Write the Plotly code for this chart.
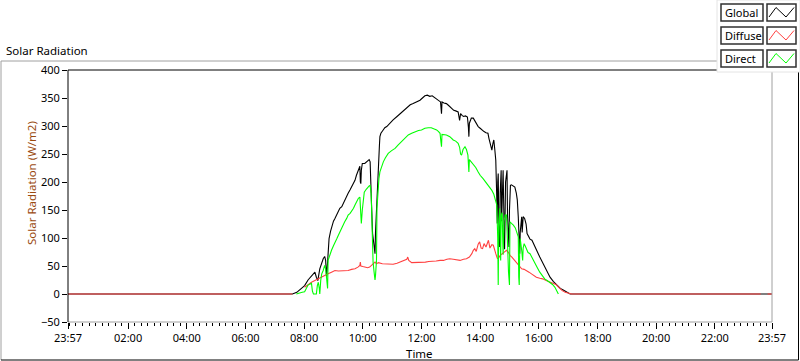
import plotly.graph_objects as go
from datetime import datetime, timedelta

# ---------------- data (time = minutes after midnight; -3 = 23:57 of previous day) -------------
GLOBAL_T = [-3, 456, 465, 472, 481, 488, 495, 500, 502, 505, 508, 512, 516, 519, 522, 524, 526, 528,
            529, 531, 534, 536, 540, 543, 547, 550, 553, 557, 560, 563, 567, 570, 574, 577, 581, 584,
            587, 591, 594, 595, 596, 597, 599, 604, 610, 613, 615, 617, 618, 620, 622, 624, 625, 626,
            628, 630, 632, 634, 635, 637, 641, 645, 649, 655, 662, 670, 676, 683, 690, 697, 703, 710,
            717, 722, 727, 732, 737, 742, 747, 751, 755, 759, 761, 762, 766, 771, 775, 778, 782, 786,
            790, 795, 798, 800, 803, 806, 810, 814, 816, 817, 818, 822, 826, 830, 834, 836, 840, 843,
            848, 852, 856, 858, 860, 862, 864, 866, 868, 870, 872, 874, 875, 876, 877, 878, 879, 880,
            881, 883, 884, 886, 887, 889, 890, 892, 895, 896, 898, 899, 900, 902, 904, 907, 911, 914,
            916, 918, 919, 920, 921, 922, 924, 925, 926, 928, 931, 934, 936, 939, 942, 946, 950, 955,
            962, 969, 976, 983, 990, 997, 1004, 1010, 1017, 1024, 1437]
GLOBAL_V = [0, 0, 3, 8, 15, 25, 33, 38, 39, 30, 24, 45, 58, 63, 67, 60, 30, 55,
            78, 99, 112, 120, 130, 135, 143, 150, 153, 156, 162, 168, 175, 180, 186, 191, 197, 203,
            212, 221, 228, 200, 197, 221, 233, 233, 238, 240, 236, 200, 156, 108, 90, 78, 72, 110,
            156, 200, 233, 265, 281, 287, 292, 297, 299, 305, 311, 317, 322, 328, 334, 338, 340, 343,
            346, 350, 354, 355, 353, 354, 351, 349, 346, 343, 322, 343, 341, 340, 337, 334, 331, 328,
            327, 325, 310, 322, 319, 317, 318, 316, 298, 281, 305, 314, 314, 308, 303, 299, 296, 293,
            290, 288, 287, 278, 269, 263, 257, 268, 275, 258, 239, 173, 126, 200, 215, 140, 100, 84,
            180, 221, 130, 190, 221, 120, 80, 200, 221, 140, 100, 84, 150, 194, 195, 193, 191, 180,
            168, 138, 100, 85, 72, 110, 125, 138, 110, 138, 135, 125, 108, 102, 98, 96, 88, 78,
            66, 54, 42, 30, 22, 16, 10, 7, 3, 0, 0]

DIFFUSE_T = [-3, 456, 458, 481, 488, 495, 502, 508, 515, 522, 529, 536, 543, 550, 557, 563, 570, 577,
             584, 590, 594, 595, 596, 600, 605, 610, 614, 618, 621, 625, 628, 632, 640, 648, 656, 662,
             670, 676, 683, 690, 692, 694, 700, 706, 714, 720, 728, 735, 742, 750, 758, 765, 772, 778,
             785, 792, 799, 806, 812, 818, 823, 826, 829, 832, 836, 839, 842, 845, 848, 852, 857, 860,
             864, 867, 870, 872, 875, 877, 881, 885, 889, 894, 898, 901, 905, 908, 912, 915, 918, 922,
             925, 930, 935, 940, 945, 950, 955, 962, 968, 975, 982, 988, 995, 1002, 1008, 1014, 1020,
             1027, 1414, 1420, 1428, 1437]
DIFFUSE_V = [0, 0, None, 12, 17, 21, 24, 27, 30, 33, 36, 39, 42, 41, 41, 42, 42, 44,
             45, 48, 51, 57, 50, 49, 48, 47, 48, 51, 54, 57, 54, 56, 54, 54, 53, 53,
             55, 57, 59, 62, 66, 60, 56, 56, 57, 56, 57, 58, 58, 59, 60, 60, 62, 63,
             62, 61, 60, 62, 63, 66, 72, 78, 81, 76, 89, 93, 82, 81, 90, 84, 96, 82,
             88, 87, 75, 72, 64, 63, 69, 72, 75, 78, 74, 69, 66, 63, 60, 57, 53, 48,
             45, 44, 42, 39, 36, 33, 30, 28, 27, 24, 22, 20, 17, 11, 6, 3, 1,
             0, 0, None, 0, 0]

DIRECT_T = [464, 470, 476, 481, 485, 488, 492, 495, 497, 499, 502, 505, 507, 509, 511, 512, 514, 516,
            519, 521, 522, 524, 526, 528, 529, 532, 536, 540, 543, 547, 550, 553, 557, 560, 563, 567,
            570, 574, 577, 581, 584, 587, 591, 594, 596, 597, 599, 601, 603, 607, 610, 613, 615, 617,
            618, 619, 620, 621, 623, 625, 626, 628, 629, 631, 633, 635, 638, 642, 646, 652, 659, 666,
            672, 679, 686, 693, 700, 707, 714, 720, 727, 734, 740, 745, 751, 755, 758, 760, 761, 762,
            766, 771, 778, 785, 790, 795, 798, 800, 802, 805, 809, 812, 815, 817, 818, 822, 826, 831,
            836, 840, 846, 851, 856, 860, 864, 868, 870, 872, 874, 876, 877, 878, 880, 882, 883, 885,
            887, 889, 891, 894, 896, 898, 900, 901, 904, 908, 912, 915, 918, 919, 920, 921, 922, 925,
            927, 928, 930, 932, 935, 938, 942, 947, 952, 957, 962, 967, 972, 977, 983, 988, 993, 997,
            1000]
DIRECT_V = [0, 2, 3, 4, 10, 16, 18, 19, 5, 0, 0, 0, 15, 21, 10, 0, 25, 36,
            42, 48, 51, 45, 20, 10, 60, 70, 78, 86, 93, 99, 105, 111, 117, 123, 129, 135,
            141, 144, 147, 153, 159, 165, 171, 173, 150, 126, 150, 170, 182, 187, 191, 193, 194, 180,
            153, 105, 80, 57, 40, 25, 33, 60, 153, 190, 206, 218, 228, 236, 243, 251, 256, 260,
            266, 272, 278, 284, 287, 290, 292, 293, 296, 297, 297, 295, 293, 290, 287, 270, 263, 285,
            285, 284, 281, 275, 273, 269, 262, 250, 248, 258, 263, 258, 248, 218, 240, 236, 233, 226,
            218, 212, 206, 200, 194, 190, 185, 178, 173, 165, 159, 100, 16, 120, 153, 60, 140, 145,
            70, 130, 141, 141, 80, 40, 16, 129, 126, 123, 118, 111, 102, 30, 16, 80, 99, 78,
            60, 82, 90, 86, 80, 74, 72, 63, 54, 47, 39, 33, 27, 24, 21, 17, 12, 6,
            0]

TICK_MINUTES = [-3, 120, 240, 360, 480, 600, 720, 840, 960, 1080, 1200, 1320, 1437]
TICK_LABELS = ["23:57", "02:00", "04:00", "06:00", "08:00", "10:00", "12:00",
               "14:00", "16:00", "18:00", "20:00", "22:00", "23:57"]
Y_TICKS = [-50, 0, 50, 100, 150, 200, 250, 300, 350, 400]

SERIES_NAMES = ["Global", "Diffuse", "Direct"]
SERIES_COLORS = ["#000000", "#ff4040", "#00ff00"]

BASE = datetime(2014, 6, 10)


def to_dt(m):
    return BASE + timedelta(minutes=m)


# ---------------- geometry helpers (pixel -> paper) -------------
W, H = 800, 361
L, R, T, B = 68, 772, 70, 322


def px(x):
    return (x - L) / (R - L)


def py(y):
    return (B - y) / (B - T)


FONT = "Noto Sans, Liberation Sans, Arial, sans-serif"

fig = go.Figure()
fig.add_trace(go.Scatter(x=[to_dt(m) for m in GLOBAL_T], y=GLOBAL_V, mode="lines",
                         line=dict(color=SERIES_COLORS[0], width=1.1), name=SERIES_NAMES[0]))
fig.add_trace(go.Scatter(x=[to_dt(m) for m in DIFFUSE_T], y=DIFFUSE_V, mode="lines",
                         line=dict(color=SERIES_COLORS[1], width=1.1), name=SERIES_NAMES[1],
                         connectgaps=False))
fig.add_trace(go.Scatter(x=[to_dt(m) for m in DIRECT_T], y=DIRECT_V, mode="lines",
                         line=dict(color=SERIES_COLORS[2], width=1.1), name=SERIES_NAMES[2]))

shapes = []
# outer panel frame (gray top/left, black bottom/right)
shapes.append(dict(type="line", xref="paper", yref="paper", x0=px(1), x1=px(717), y0=py(61), y1=py(61),
                   line=dict(color="#a0a0a0", width=1)))
shapes.append(dict(type="line", xref="paper", yref="paper", x0=px(1), x1=px(1), y0=py(61), y1=py(360),
                   line=dict(color="#a0a0a0", width=1)))
shapes.append(dict(type="line", xref="paper", yref="paper", x0=px(1), x1=px(798.5), y0=py(360), y1=py(360),
                   line=dict(color="#000000", width=1)))
shapes.append(dict(type="line", xref="paper", yref="paper", x0=px(798.5), x1=px(798.5), y0=py(61), y1=py(360),
                   line=dict(color="#000000", width=1)))
# plot frame: black left/top, gray right/bottom
shapes.append(dict(type="line", xref="paper", yref="paper", x0=0, x1=1, y0=0, y1=0,
                   line=dict(color="#a0a0a0", width=1)))
shapes.append(dict(type="line", xref="paper", yref="paper", x0=1, x1=1, y0=0, y1=1,
                   line=dict(color="#a0a0a0", width=1)))
shapes.append(dict(type="line", xref="paper", yref="paper", x0=0, x1=1, y0=1, y1=1,
                   line=dict(color="#000000", width=1)))
shapes.append(dict(type="line", xref="paper", yref="paper", x0=0, x1=0, y0=0, y1=1,
                   line=dict(color="#000000", width=1)))
# legend panel
shapes.append(dict(type="rect", xref="paper", yref="paper", x0=px(717), x1=px(800), y0=py(72), y1=py(0),
                   fillcolor="#ffffff", line=dict(color="#e4e4e4", width=1), layer="above"))

annotations = []
for i, (name, col) in enumerate(zip(SERIES_NAMES, SERIES_COLORS)):
    top = 4 + 23 * i
    bot = top + 17
    shapes.append(dict(type="rect", xref="paper", yref="paper", x0=px(721), x1=px(763), y0=py(bot), y1=py(top),
                       fillcolor="#ffffff", line=dict(color="#303030", width=1.5), layer="above"))
    shapes.append(dict(type="rect", xref="paper", yref="paper", x0=px(767), x1=px(796), y0=py(bot), y1=py(top),
                       fillcolor="#ffffff", line=dict(color="#303030", width=1.5), layer="above"))
    yb, yt = py(top + 13), py(top + 3.5)
    path = "M {} {} L {} {} L {} {} L {} {}".format(px(769), yb, px(776), yt, px(786), yb, px(794), yt)
    shapes.append(dict(type="path", xref="paper", yref="paper", path=path,
                       line=dict(color=col, width=1), layer="above"))
    annotations.append(dict(text=name, xref="paper", yref="paper", x=px(723), y=py(top + 8.5),
                            xanchor="left", yanchor="middle", showarrow=False,
                            font=dict(family=FONT, size=11, color="#000000")))

annotations.append(dict(text="Solar Radiation", xref="paper", yref="paper", x=px(4), y=py(50),
                        xanchor="left", yanchor="middle", showarrow=False,
                        font=dict(family=FONT, size=11.5, color="#000000")))
annotations.append(dict(text="Solar Radiation (W/m2)", xref="paper", yref="paper", x=px(31), y=py(183),
                        xanchor="center", yanchor="middle", showarrow=False, textangle=-90,
                        font=dict(family=FONT, size=11.5, color="#9a4a10")))
annotations.append(dict(text="Time", xref="paper", yref="paper", x=px(419), y=py(353),
                        xanchor="center", yanchor="middle", showarrow=False,
                        font=dict(family=FONT, size=11.5, color="#000000")))

fig.update_layout(
    width=W, height=H,
    margin=dict(l=L, r=W - R, t=T, b=H - B, pad=0),
    paper_bgcolor="#ffffff", plot_bgcolor="#ffffff",
    showlegend=False,
    shapes=shapes, annotations=annotations,
    xaxis=dict(type="date", range=[to_dt(TICK_MINUTES[0]), to_dt(TICK_MINUTES[-1])],
               tickmode="array", tickvals=[to_dt(m) for m in TICK_MINUTES], ticktext=TICK_LABELS,
               ticks="outside", ticklen=6, tickcolor="#000000", tickwidth=1,
               showgrid=False, zeroline=False, showline=False, automargin=False,
               tickfont=dict(family=FONT, size=11, color="#000000"),
               minor=dict(ticks="outside", ticklen=3, tickcolor="#000000", tickwidth=1,
                          dtick=800000, tick0=to_dt(0), showgrid=False)),
    yaxis=dict(range=[Y_TICKS[0], Y_TICKS[-1]], tickmode="array", tickvals=Y_TICKS,
               ticks="outside", ticklen=5, tickcolor="#000000", tickwidth=1,
               showgrid=False, zeroline=False, showline=False, automargin=False,
               tickfont=dict(family=FONT, size=11, color="#000000")),
)

fig.write_html("out.html", config={"displayModeBar": False},
               post_script="document.body.style.margin='0';document.body.style.overflow='hidden';")
